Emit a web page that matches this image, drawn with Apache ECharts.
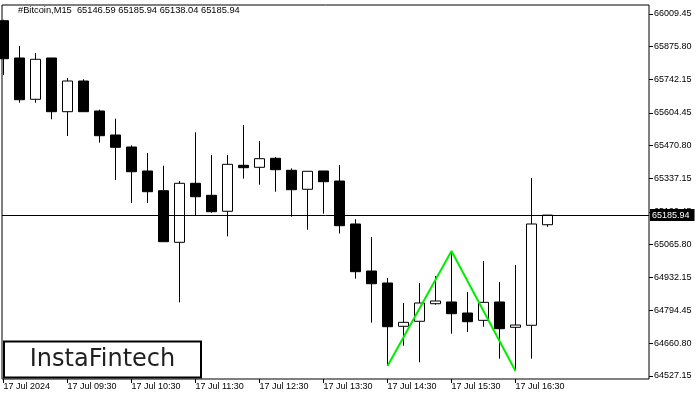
<!DOCTYPE html>
<html><head><meta charset="utf-8">
<script src="https://cdn.jsdelivr.net/npm/echarts@6/dist/echarts.min.js"></script>
<style>html,body{margin:0;padding:0;background:#fff}#c{width:700px;height:400px}</style>
</head><body><div id="c"></div>
<script>
// candle index (15-minute bars starting 17 Jul 08:30)
const barIndex = [0,1,2,3,4,5,6,7,8,9,10,11,12,13,14,15,16,17,18,19,20,21,22,23,24,25,26,27,28,29,30,31,32,33,34];
const opens  = [65982.0,65829.3,65660.2,65829.3,65609.4,65735.1,65612.3,65514.0,65464.9,65366.6,65285.9,65074.6,65316.2,65267.1,65201.6,65389.9,65381.7,65418.6,65369.5,65291.7,65366.6,65325.6,65149.6,64957.1,64908.0,64730.7,64751.2,64823.2,64830.2,64785.1,64755.2,64830.2,64726.6,64734.8,65146.59];
const closes = [65826.4,65658.5,65824.0,65609.4,65735.1,65609.4,65511.1,65463.6,65363.7,65281.8,65077.1,65316.2,65261.3,65199.9,65394.0,65380.1,65417.0,65371.9,65290.0,65365.4,65322.8,65142.6,64954.3,64905.1,64729.0,64747.0,64826.1,64834.3,64782.3,64749.5,64828.9,64720.8,64736.0,65149.6,65185.94];
const lows   = [65759.7,65646.3,65646.3,65578.3,65509.9,65609.0,65482.5,65329.7,65235.6,65235.6,65077.0,64828.9,65186.4,65195.8,65099.2,65335.1,65310.5,65281.8,65179.5,65126.2,65191.7,65110.7,64925.6,64745.4,64572.2,64651.3,64583.3,64819.1,64700.4,64707.3,64729.0,64598.0,64551.8,64598.0,65138.04];
const highs  = [65986.0,65878.4,65849.8,65830.0,65747.4,65742.1,65617.6,65580.7,65471.8,65440.3,65388.3,65325.6,65525.0,65432.1,65432.1,65554.9,65489.4,65423.9,65377.6,65366.0,65367.0,65391.2,65169.2,65096.3,64928.4,64826.1,64908.0,64936.6,65036.1,64871.1,64998.1,64912.1,64981.7,65337.9,65185.94];

// double-bottom pattern lines
const patternIdx = [24, 28, 32];
const patternVal = [64568, 65039, 64548];

const currentPrice = 65185.94;
const headerText = '#Bitcoin,M15  65146.59 65185.94 65138.04 65185.94';

const xTickIdx = [0,4,8,12,16,20,24,28,32];
const xTickLabels = ['17 Jul 2024','17 Jul 09:30','17 Jul 10:30','17 Jul 11:30','17 Jul 12:30','17 Jul 13:30','17 Jul 14:30','17 Jul 15:30','17 Jul 16:30'];
const yTicks = [66009.45,65875.80,65742.15,65604.45,65470.80,65337.15,65199.45,65065.80,64932.15,64794.45,64660.80,64527.15];

const candleData = barIndex.map((k,i)=>[k, opens[i], closes[i], lows[i], highs[i]]);
const patternData = patternIdx.map((k,i)=>[k, patternVal[i]]);

const chart = echarts.init(document.getElementById('c'), null, {renderer:'canvas'});
const FONT = 'Liberation Sans';
chart.setOption({
  animation: false,
  backgroundColor: '#fff',
  grid: {left: 2, right: 51, top: 5, bottom: 21, show: true, borderColor: '#000', borderWidth: 1, backgroundColor: '#fff'},
  xAxis: {
    type: 'value', min: -0.09375, max: 40.34375,
    axisLine: {show: false, onZero: false},
    splitLine: {show: false},
    axisTick: {show: true, customValues: xTickIdx, length: 4, lineStyle: {color: '#000'}},
    axisLabel: {customValues: xTickIdx, align: 'left', margin: 3, fontFamily: FONT, fontSize: 9, color: '#000',
      formatter: v => xTickLabels[xTickIdx.indexOf(Math.round(v))] || ''}
  },
  yAxis: {
    type: 'value', position: 'right', min: 64514.9, max: 66046.3, scale: true,
    axisLine: {show: false, onZero: false},
    splitLine: {show: false},
    axisTick: {show: true, customValues: yTicks, length: 4, lineStyle: {color: '#000'}},
    axisLabel: {customValues: yTicks, margin: 5, fontFamily: FONT, fontSize: 9, color: '#000',
      formatter: v => Number(v).toFixed(2)}
  },
  series: [
    {
      type: 'candlestick',
      data: candleData,
      encode: {x: 0, y: [1, 2, 3, 4]},
      barWidth: 10,
      itemStyle: {color: '#fff', color0: '#000', borderColor: '#000', borderColor0: '#000', borderWidth: 1},
      markLine: {
        silent: true, symbol: ['none','none'],
        lineStyle: {color: '#000', width: 1, type: 'solid'},
        label: {show: true, position: 'end', distance: 1, backgroundColor: '#000', color: '#fff',
          fontFamily: FONT, fontSize: 9, padding: [2, 5, 1, 2], formatter: p => p.value.toFixed(2)},
        data: [{yAxis: currentPrice}]
      }
    },
    {
      type: 'line', data: patternData, symbol: 'none', z: 5,
      lineStyle: {color: '#00ee00', width: 2}
    }
  ],
  graphic: [
    {type: 'text', left: 18, top: 6, z: 10, style: {text: headerText, fontFamily: FONT, fontSize: 9.3, fill: '#000'}},
    {type: 'rect', z: 20, shape: {x: 4, y: 341.5, width: 197, height: 36}, style: {fill: '#fff', stroke: '#000', lineWidth: 2}},
    {type: 'text', z: 21, x: 102.5, y: 360, style: {text: 'InstaFintech', fontFamily: 'DejaVu Sans', fontSize: 24, fill: '#1f1f1f', align: 'center', verticalAlign: 'middle'}}
  ]
});
</script></body></html>
